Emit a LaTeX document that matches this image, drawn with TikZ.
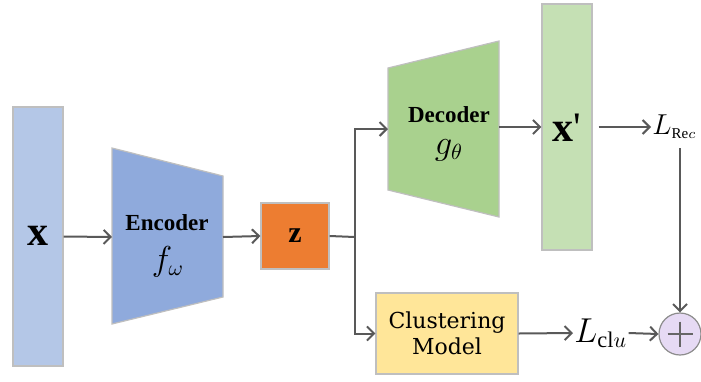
\documentclass[tikz,border=0pt]{standalone}
\usepackage{amsmath}
\usepackage{fontspec}
\setmainfont{Liberation Serif}
\newfontfamily\cluFont{DejaVu Serif}
\usepackage{tikz}
\usetikzlibrary{arrows.meta}

\definecolor{xblue}{HTML}{B4C7E7}
\definecolor{encblue}{HTML}{8FAADC}
\definecolor{zorange}{HTML}{ED7D31}
\definecolor{decgreen}{HTML}{A9D18E}
\definecolor{xgreen}{HTML}{C5E0B4}
\definecolor{cluyellow}{HTML}{FFE699}
\definecolor{sumpurple}{HTML}{E6DAF4}
\definecolor{linegray}{HTML}{595959}
\definecolor{edgegray}{HTML}{BFBFBF}

\tikzset{
  block/.style={draw=edgegray, line width=0.6pt, inner sep=0pt},
  ln/.style={draw=linegray, line width=1pt},
  arr/.style={ln, -{Straight Barb[length=3.5pt,width=7pt]}},
  bigtxt/.style={font=\fontsize{21}{22}\selectfont\bfseries},
  subtxt/.style={font=\fontsize{11.5}{13}\selectfont\bfseries},
  mtxt/.style={font=\fontsize{16}{17}\selectfont},
  losstxt/.style={anchor=west, inner sep=0.5pt},
}

\begin{document}
\begin{tikzpicture}[x=0.5pt,y=-0.5pt]
  \useasboundingbox (0,0) rectangle (701,381);

  % input x
  \node[block, fill=xblue, minimum width=25pt, minimum height=129.5pt] (x) at (38,236.5) {};
  \node[bigtxt] (xlab) at (38,236) {x};

  % encoder
  \filldraw[fill=encblue, draw=edgegray, line width=0.6pt] (112,148) -- (223,176) -- (223,297) -- (112,324) -- cycle;
  \coordinate (enc-w) at (112,237);
  \coordinate (enc-e) at (223,237);
  \node[subtxt] (enc) at (167,223) {Encoder};
  \node[mtxt] (encf) at (168,262) {$f_\omega$};

  % latent z
  \node[block, fill=zorange, minimum width=34pt, minimum height=33pt, font=\fontsize{15}{16}\selectfont\bfseries] (z) at (295,236) {z};
  \coordinate (split) at (355,237);

  % decoder
  \filldraw[fill=decgreen, draw=edgegray, line width=0.6pt] (388,68) -- (499,41) -- (499,217) -- (388,190) -- cycle;
  \coordinate (dec-w) at (388,129);
  \coordinate (dec-e) at (499,127);
  \node[subtxt] (dec) at (449,115) {Decoder};
  \node[mtxt] (decg) at (449,150) {$g_\theta$};

  % reconstruction x'
  \node[block, fill=xgreen, minimum width=25pt, minimum height=123pt] (xr) at (567,127) {};
  \node[bigtxt] (xrlab) at (567,128) {x{\mdseries\textquotesingle}};

  % clustering
  \node[block, fill=cluyellow, minimum width=71pt, minimum height=40.5pt, align=center,
        font=\cluFont\fontsize{11}{13}\selectfont] (clu) at (447,333.5) {Clustering\\Model};

  % losses
  \node[losstxt, font=\fontsize{15}{16}\selectfont] (lrec) at (651,127) {$L_{\scriptscriptstyle\text{Re}c}$};
  \node[losstxt, font=\fontsize{16}{17}\selectfont] (lclu) at (573,333) {$L_{\text{cl}u}$};
  \node[circle, draw=black!45, fill=sumpurple, line width=0.6pt, minimum size=21pt, inner sep=0pt] (sum) at (680,334) {};
  \draw[black!60, line width=0.7pt] (sum.center) +(-12.5,0) -- +(12.5,0) +(0,-12.5) -- +(0,12.5);

  % connectors
  \draw[arr] (x.east) -- (enc-w);
  \draw[arr] (enc-e) -- (z.west);
  \draw[ln] (z.east) -- (split);
  \draw[arr] (split) |- (dec-w);
  \draw[arr] (split) |- (clu.west);
  \draw[arr] (dec-e) -- (dec-e -| xr.west);
  \draw[arr, shorten <=3pt] (xr.east |- lrec.west) -- (lrec.west);
  \draw[arr, shorten <=4pt] (sum |- lrec.south) -- (sum.north);
  \draw[arr] (clu.east) -- (lclu.west);
  \draw[arr] (lclu.east) -- (sum.west);
\end{tikzpicture}
\end{document}
